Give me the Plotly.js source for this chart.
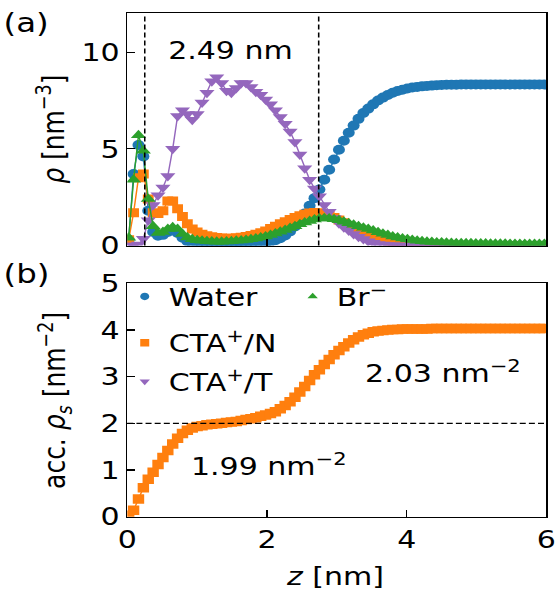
<!DOCTYPE html>
<html><head><meta charset="utf-8">
<script src="https://cdn.plot.ly/plotly-3.0.1.min.js"></script>
<style>
html,body{margin:0;padding:0;background:#fff;overflow:hidden;}
#wrap{width:556px;height:594px;overflow:hidden;}
#chart{width:463px;height:594px;transform:scaleX(1.2009);transform-origin:0 0;}
</style></head><body><div id="wrap"><div id="chart"></div></div>
<script>
// z positions [nm]
const z = [0.02,0.09,0.16,0.23,0.30,0.37,0.44,0.51,0.58,0.65,
0.72,0.79,0.86,0.93,1.00,1.07,1.14,1.21,1.28,1.35,
1.42,1.49,1.56,1.63,1.70,1.77,1.84,1.91,1.98,2.05,
2.12,2.19,2.26,2.33,2.40,2.47,2.54,2.61,2.68,2.75,
2.82,2.89,2.96,3.03,3.10,3.17,3.24,3.31,3.38,3.45,
3.52,3.59,3.66,3.73,3.80,3.87,3.94,4.01,4.08,4.15,
4.22,4.29,4.36,4.43,4.50,4.57,4.64,4.71,4.78,4.85,
4.92,4.99,5.06,5.13,5.20,5.27,5.34,5.41,5.48,5.55,
5.62,5.69,5.76,5.83,5.90,5.97];
// (a) number densities [nm^-3]
const water = [0.3,3.7,5.2,4.6,1.8,0.7,0.5,0.55,0.7,0.8,
0.65,0.4,0.22,0.12,0.06,0.03,0.02,0.01,0,0,
0,0,0,0,0.01,0.03,0.05,0.08,0.13,0.19,
0.27,0.38,0.52,0.72,0.98,1.3,1.65,2.05,2.45,2.9,
3.4,3.92,4.45,4.95,5.42,5.83,6.2,6.55,6.85,7.08,
7.3,7.5,7.65,7.78,7.9,7.99,8.06,8.12,8.17,8.2,
8.23,8.25,8.27,8.29,8.3,8.31,8.32,8.32,8.33,8.33,
8.33,8.33,8.33,8.33,8.33,8.33,8.33,8.33,8.33,8.33,
8.33,8.33,8.33,8.33,8.33,8.33];
const ctaN = [0.3,1.7,3.5,3.7,2.4,1.7,1.65,1.8,2.3,2.3,
1.9,1.5,1.12,0.85,0.7,0.58,0.5,0.45,0.41,0.39,
0.38,0.38,0.4,0.43,0.47,0.52,0.58,0.66,0.75,0.88,
1.0,1.12,1.23,1.34,1.45,1.54,1.62,1.68,1.71,1.7,
1.65,1.56,1.45,1.32,1.18,1.04,0.9,0.77,0.65,0.54,
0.44,0.36,0.29,0.23,0.18,0.14,0.11,0.08,0.06,0.05,
0.04,0.03,0.02,0.02,0.01,0.01,0.01,0,0,0,
0,0,0,0,0,0,0,0,0,0,
0,0,0,0,0,0];
const ctaT = [0,0,0.05,0.35,1.3,2.1,2.6,3.0,3.6,5.0,
6.7,7.0,6.8,6.5,6.8,7.4,7.9,8.5,8.7,8.4,
8.0,7.9,8.15,8.4,8.4,8.2,7.95,7.8,7.55,7.3,
7.0,6.65,6.3,5.9,5.35,4.7,4.0,3.4,2.95,2.55,
2.1,1.75,1.42,1.15,0.95,0.78,0.6,0.45,0.33,0.22,
0.14,0.08,0.05,0.02,0.01,0,0,0,0,0,
0,0,0,0,0,0,0,0,0,0,
0,0,0,0,0,0,0,0,0,0,
0,0,0,0,0,0];
const br = [0.4,3.4,5.7,4.9,2.4,1.0,0.65,0.7,0.85,0.95,
0.85,0.6,0.42,0.32,0.27,0.24,0.22,0.21,0.2,0.2,
0.21,0.22,0.24,0.26,0.29,0.32,0.36,0.41,0.47,0.54,
0.62,0.71,0.8,0.9,1.0,1.1,1.19,1.27,1.34,1.39,
1.41,1.4,1.36,1.3,1.23,1.15,1.07,0.99,0.92,0.85,
0.77,0.69,0.61,0.54,0.47,0.41,0.36,0.32,0.28,0.25,
0.22,0.2,0.18,0.16,0.15,0.14,0.13,0.12,0.12,0.11,
0.11,0.1,0.1,0.1,0.09,0.09,0.09,0.09,0.08,0.08,
0.08,0.08,0.08,0.08,0.08,0.08];
// (b) accumulated surface density of CTA+/N [nm^-2]
const accN = [0.03,0.14,0.38,0.62,0.8,0.95,1.12,1.27,1.42,1.56,
1.68,1.78,1.85,1.9,1.93,1.95,1.97,1.98,1.99,2.0,
2.02,2.03,2.04,2.06,2.08,2.1,2.12,2.15,2.18,2.21,
2.25,2.31,2.38,2.46,2.56,2.67,2.79,2.92,3.04,3.15,
3.26,3.37,3.47,3.56,3.64,3.72,3.79,3.85,3.9,3.93,
3.96,3.98,3.99,4.0,4.01,4.01,4.02,4.02,4.02,4.02,
4.02,4.02,4.03,4.03,4.03,4.03,4.03,4.03,4.03,4.03,
4.03,4.03,4.03,4.03,4.03,4.03,4.03,4.03,4.03,4.03,
4.03,4.03,4.03,4.03,4.03,4.03];
const names = ['Water','CTA<sup>+</sup>/N','CTA<sup>+</sup>/T','Br<sup>−</sup>'];
const xTicks = [0,2,4,6];
const yTicksA = [0,5,10];
const yTicksB = [0,1,2,3,4,5];
const vLines = [0.25, 2.74];
const hLine = 2.0;

const FONT = '"DejaVu Sans", sans-serif';
const COL = ['#1f77b4','#ff7f0e','#9467bd','#2ca02c'];
const SYM = ['circle','square','triangle-down','triangle-up'];
const MSIZE = [10,9,11,11];
const seriesA = [water, ctaN, ctaT, br];

const traces = [];
seriesA.forEach((s,i)=>{
  traces.push({x:z, y:s, xaxis:'x', yaxis:'y', mode:'lines+markers', showlegend:false,
    line:{color:COL[i], width:1.2}, marker:{color:COL[i], symbol:SYM[i], size:MSIZE[i], line:{width:0}}});
});
traces.push({x:z, y:accN, xaxis:'x2', yaxis:'y2', mode:'lines+markers', showlegend:false,
  line:{color:COL[1], width:1.2}, marker:{color:COL[1], symbol:'square', size:9.5, line:{width:0}}});
const legIds = ['legend','legend3','legend4','legend2'];
names.forEach((n,i)=>{
  traces.push({x:[null], y:[null], xaxis:'x2', yaxis:'y2', mode:'markers', name:n, legend:legIds[i],
    marker:{color:COL[i], symbol:SYM[i], size:7.5, line:{width:0}}});
});

const axBase = {showgrid:false, zeroline:false, showline:true, linecolor:'#000', linewidth:1.4, mirror:true,
  ticks:'inside', tickcolor:'#000', tickwidth:1.3, tickfont:{family:FONT, size:25, color:'#000'}};
const legBase = {xanchor:'left', yanchor:'middle', bgcolor:'rgba(0,0,0,0)', borderwidth:0,
  font:{family:FONT, size:25, color:'#000'}, itemsizing:'trace'};
const dashV = {color:'#000', width:1.3, dash:'5px,3px'};
const shapes = vLines.map(v=>({type:'line', xref:'x', yref:'y domain', x0:v, x1:v, y0:0, y1:1, line:dashV}));
shapes.push({type:'line', xref:'x2 domain', yref:'y2', x0:0, x1:1, y0:hLine, y1:hLine, line:{color:'#000', width:1.3, dash:'5px,2.6px'}});

const annF = {family:FONT, size:25, color:'#000'};
const layout = {
  width:463, height:594, margin:{l:105.5, r:7.5, t:0, b:0},
  paper_bgcolor:'#fff', plot_bgcolor:'#fff', font:{family:FONT, size:25, color:'#000'},
  xaxis: Object.assign({}, axBase, {domain:[0,1], anchor:'y', range:[0,6], tickvals:xTicks, showticklabels:false, ticklen:7}),
  yaxis: Object.assign({}, axBase, {domain:[0.5867,0.9773], anchor:'x', range:[0,12], tickvals:yTicksA, ticklen:6}),
  xaxis2: Object.assign({}, axBase, {domain:[0,1], anchor:'y2', range:[0,6], tickvals:xTicks, ticklen:7}),
  yaxis2: Object.assign({}, axBase, {domain:[0.1301,0.5231], anchor:'x2', range:[0,5], tickvals:yTicksB, ticklen:6}),
  shapes: shapes,
  legend: Object.assign({}, legBase, {x:-0.0157, y:0.5005}),
  legend3: Object.assign({}, legBase, {x:-0.0157, y:0.4226}),
  legend4: Object.assign({}, legBase, {x:-0.0157, y:0.3574}),
  legend2: Object.assign({}, legBase, {x:0.385, y:0.5005}),
  annotations: [
    {xref:'paper', yref:'paper', x:-0.242, y:1-23/594, text:'(a)', showarrow:false, xanchor:'center', yanchor:'middle', font:{family:FONT, size:27, color:'#000'}},
    {xref:'paper', yref:'paper', x:-0.242, y:1-273/594, text:'(b)', showarrow:false, xanchor:'center', yanchor:'middle', font:{family:FONT, size:27, color:'#000'}},
    {xref:'x', yref:'y', x:1.486, y:10.06, text:'2.49 nm', showarrow:false, xanchor:'center', yanchor:'middle', font:annF},
    {xref:'x2', yref:'y2', x:0.876, y:1.1, text:'1.99 nm<sup>−2</sup>', showarrow:false, xanchor:'left', yanchor:'middle', font:annF},
    {xref:'x2', yref:'y2', x:3.376, y:3.08, text:'2.03 nm<sup>−2</sup>', showarrow:false, xanchor:'left', yanchor:'middle', font:annF},
    {xref:'paper', yref:'paper', x:-0.178, y:1-129/594, text:'<i>ρ</i> [nm<sup>−3</sup>]', textangle:-90, showarrow:false, xanchor:'center', yanchor:'middle', font:annF},
    {xref:'paper', yref:'paper', x:-0.172, y:1-400/594, text:'acc. <i>ρ<sub>s</sub></i> [nm<sup>−2</sup>]', textangle:-90, showarrow:false, xanchor:'center', yanchor:'middle', font:annF},
    {xref:'paper', yref:'paper', x:0.4957, y:1-576/594, text:'<i>z</i> [nm]', showarrow:false, xanchor:'center', yanchor:'middle', font:annF}
  ]
};
Plotly.newPlot('chart', traces, layout, {displayModeBar:false, staticPlot:true});
</script></body></html>
